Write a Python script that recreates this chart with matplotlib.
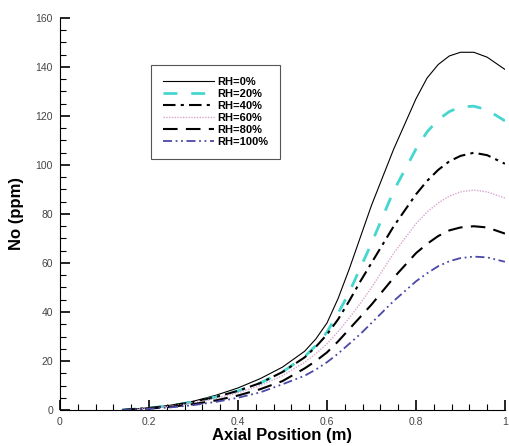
import matplotlib.pyplot as plt
from matplotlib.ticker import MultipleLocator

plt.rcParams['font.family'] = ['Liberation Sans', 'DejaVu Sans']

x = [0.14, 0.2, 0.25, 0.3, 0.35, 0.4, 0.45, 0.5, 0.55, 0.575, 0.6, 0.625, 0.65, 0.675, 0.7,
     0.75, 0.8, 0.825, 0.85, 0.875, 0.9, 0.93, 0.96, 1.0]

rh0 = [0, 0.9, 2.0, 3.6, 6.0, 9, 12.8, 17.5, 24, 29, 35.5, 45.5, 57.5, 70.5, 83.5,
       106.5, 127, 135.5, 141, 144.5, 146, 146, 144, 139]
rh20 = [0, 0.8, 1.8, 3.3, 5.3, 7.8, 11, 15.5, 21.8, 26.3, 31.8, 39.5, 48, 58, 68,
        89.5, 106.5, 113.5, 118.5, 121.8, 123.7, 124, 122.5, 118]
rh40 = [0, 0.8, 1.8, 3.3, 5.3, 7.8, 11, 15.5, 21.5, 25.8, 30.8, 37, 44.5, 52.5, 60,
        75, 88, 93.5, 98, 101.5, 103.7, 105, 104, 100.5]
rh60 = [0, 0.7, 1.6, 2.9, 4.7, 7, 10, 14, 19.5, 23, 27, 32, 37.5, 43.5, 50,
        64, 76, 80.8, 84.5, 87.3, 89, 89.8, 89, 86.5]
rh80 = [0, 0.6, 1.3, 2.4, 3.9, 5.9, 8.5, 11.8, 17, 20, 23.5, 28, 33, 38, 43,
        54, 64, 67.8, 71, 73.3, 74.5, 75, 74.5, 72]
rh100 = [0, 0.5, 1.1, 2.0, 3.3, 5.0, 7.2, 10.5, 14, 16.5, 19.5, 23, 27, 31, 35.5,
         44.5, 52.5, 55.8, 58.7, 60.7, 62, 62.6, 62.3, 60.5]

labels = ['RH=0%', 'RH=20%', 'RH=40%', 'RH=60%', 'RH=80%', 'RH=100%']

fig = plt.figure(figsize=(5.1, 4.46), dpi=100)
ax = fig.add_axes([0.1176, 0.0807, 0.8725, 0.879])

ax.plot(x, rh0, color='black', lw=0.8, label=labels[0])
ax.plot(x, rh20, color='#45d6d0', lw=2.0, dashes=(5, 5), label=labels[1])
ax.plot(x, rh40, color='black', lw=1.5, dashes=(6, 2.5, 1.5, 2.5), label=labels[2])
ax.plot(x, rh60, color='#d9a6cf', lw=1.0, dashes=(1, 1), label=labels[3])
ax.plot(x, rh80, color='black', lw=1.5, dashes=(7, 4), label=labels[4])
ax.plot(x, rh100, color='#4a48a8', lw=1.3, dashes=(5, 2, 1, 2, 1, 2), label=labels[5])

ax.set_xlim(0, 1)
ax.set_ylim(0, 160)
ax.xaxis.set_major_locator(MultipleLocator(0.2))
ax.xaxis.set_minor_locator(MultipleLocator(0.04))
ax.yaxis.set_major_locator(MultipleLocator(20))
ax.yaxis.set_minor_locator(MultipleLocator(5))
ax.set_xticks([0, 0.2, 0.4, 0.6, 0.8, 1.0])
ax.set_xticklabels(['0', '0.2', '0.4', '0.6', '0.8', '1'])

ax.spines['top'].set_visible(False)
ax.spines['right'].set_visible(False)
ax.tick_params(which='major', direction='in', length=7, width=1.2, labelsize=7.5, labelcolor='#444444', pad=5)
ax.tick_params(which='minor', direction='in', length=4, width=0.8)

ax.set_xlabel('Axial Position (m)', fontsize=12, fontweight='bold', labelpad=1)
ax.set_ylabel('No (ppm)', fontsize=12, fontweight='bold', labelpad=8)

leg = ax.legend(loc='upper left', bbox_to_anchor=(0.192, 0.895), prop={'size': 8, 'weight': 'bold'},
                handlelength=4.6, handletextpad=0.25, labelspacing=0.18, borderpad=1.1,
                fancybox=False, edgecolor='#555555', framealpha=1)
leg.get_frame().set_linewidth(0.8)

plt.savefig('out.png', dpi=100)
